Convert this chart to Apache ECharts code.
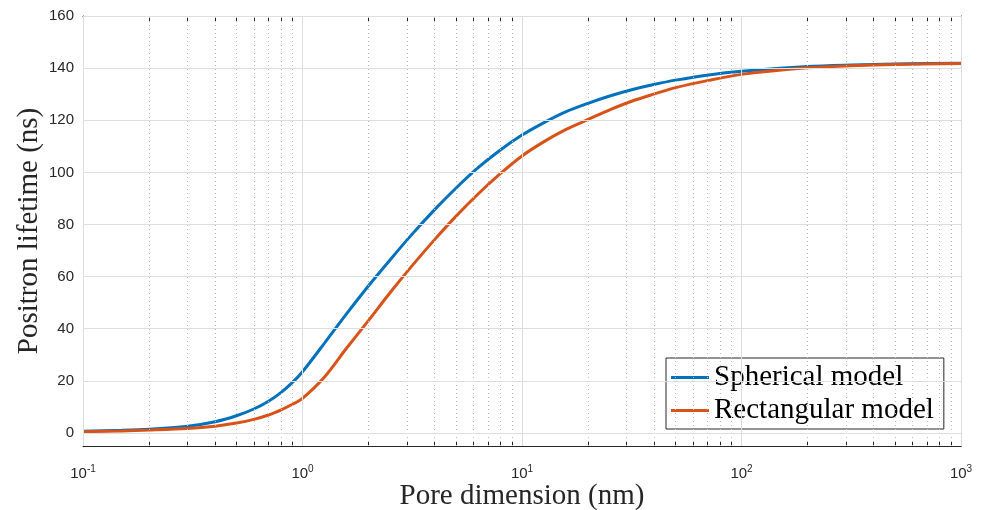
<!DOCTYPE html>
<html><head><meta charset="utf-8">
<script src="https://cdn.jsdelivr.net/npm/echarts@6/dist/echarts.min.js"></script>
<style>html,body{margin:0;padding:0;background:#fff}#c{width:982px;height:510px}</style>
</head><body><div id="c"></div>
<script>
// ---- data ----
const poreD  = [0.1, 0.15, 0.2, 0.3, 0.4, 0.5, 0.6, 0.7, 0.8, 0.9, 1.0, 1.26, 1.58, 2.0, 2.51, 3.16, 3.98, 5.01, 6.31, 7.94, 10, 12.6, 15.8, 20, 25.1, 31.6, 39.8, 50.1, 70.8, 100, 200, 316, 500, 1000];
const sphTau = [0.7, 1.0, 1.4, 2.6, 4.3, 6.6, 9.2, 12.2, 15.6, 19.4, 23.5, 34.5, 45.5, 56.5, 66.5, 76.3, 85.5, 94.0, 101.8, 108.5, 114.3, 119.1, 123.2, 126.5, 129.3, 131.7, 133.7, 135.4, 137.4, 138.8, 140.6, 141.2, 141.6, 141.9];
const recTau = [0.5, 0.8, 1.1, 1.7, 2.6, 3.8, 5.2, 6.9, 8.9, 11.0, 13.3, 21.5, 32.3, 43.2, 53.9, 64.2, 74.0, 83.2, 91.7, 99.4, 106.3, 111.8, 116.4, 120.3, 124.0, 127.3, 130.0, 132.5, 135.3, 137.6, 140.1, 140.9, 141.4, 141.8];
const seriesNames = ['Spherical model', 'Rectangular model'];
const xMajor = [0.1, 1, 10, 100, 1000];
const xMinor = [0.2,0.3,0.4,0.5,0.6,0.7,0.8,0.9, 2,3,4,5,6,7,8,9, 20,30,40,50,60,70,80,90, 200,300,400,500,600,700,800,900];
const yTicks = [0, 20, 40, 60, 80, 100, 120, 140, 160];
const xTitle = 'Pore dimension (nm)';
const yTitle = 'Positron lifetime (ns)';

const AX = '#262626';
const chart = echarts.init(document.getElementById('c'));
const allX = xMajor.concat(xMinor).sort((a,b)=>a-b);
const labelFmt = v => { const e = Math.round(Math.log10(v)); return '{b|10}{s|' + e + '}'; };

chart.setOption({
  animation: false,
  backgroundColor: '#fff',
  grid: { left: 83, right: 21, top: 16, bottom: 64, containLabel: false, outerBoundsMode: 'none' },
  legend: {
    data: seriesNames,
    orient: 'vertical',
    left: 666, top: 358,
    backgroundColor: '#fff',
    borderColor: AX, borderWidth: 1,
    padding: [5, 10, 4, 5],
    itemGap: 4,
    icon: 'rect', itemWidth: 38, itemHeight: 3,
    itemStyle: { borderWidth: 0 },
    textStyle: { fontFamily: 'Liberation Serif', fontSize: 29, lineHeight: 29, color: '#000' }
  },
  xAxis: [{
    type: 'log', logBase: 10, min: 0.1, max: 1000,
    name: xTitle, nameLocation: 'middle', nameGap: 36, nameMoveOverlap: false,
    nameTextStyle: { fontFamily: 'Liberation Serif', fontSize: 29, color: AX },
    axisLine: { show: true, onZero: false, lineStyle: { color: AX, width: 1 } },
    axisTick: { show: true, inside: true, length: 5, customValues: allX, lineStyle: { color: AX } },
    axisLabel: { show: true, margin: 18, showMinLabel: true, showMaxLabel: true, formatter: labelFmt,
      rich: { b: { fontFamily: 'Liberation Sans', fontSize: 15, color: AX },
              s: { fontFamily: 'Liberation Sans', fontSize: 10, color: AX, verticalAlign: 'bottom', padding: [0,0,9,0] } } },
    splitLine: { show: false }, minorTick: { show: false }
  }, {
    type: 'log', logBase: 10, min: 0.1, max: 1000, position: 'top',
    axisLine: { show: true, onZero: false, lineStyle: { color: AX, width: 1 } },
    axisTick: { show: true, inside: true, length: 5, customValues: allX, lineStyle: { color: AX } },
    axisLabel: { show: false }, splitLine: { show: false }
  }],
  yAxis: [{
    type: 'value', min: -5, max: 160,
    name: yTitle, nameLocation: 'middle', nameGap: 39, nameRotate: 90, nameMoveOverlap: false,
    nameTextStyle: { fontFamily: 'Liberation Serif', fontSize: 29, color: AX },
    axisLine: { show: true, onZero: false, lineStyle: { color: AX, width: 1 } },
    axisTick: { show: true, inside: true, length: 5, customValues: yTicks, lineStyle: { color: AX } },
    axisLabel: { show: true, customValues: yTicks, margin: 9, fontFamily: 'Liberation Sans', fontSize: 15, color: AX },
    splitLine: { show: false }
  }, {
    type: 'value', min: -5, max: 160, position: 'right',
    axisLine: { show: true, onZero: false, lineStyle: { color: AX, width: 1 } },
    axisTick: { show: true, inside: true, length: 5, customValues: yTicks, lineStyle: { color: AX } },
    axisLabel: { show: false }, splitLine: { show: false }
  }],
  series: [
    {
      name: 'grid', type: 'line', data: [], z: 1, silent: true,
      markLine: {
        silent: true, symbol: ['none', 'none'], animation: false,
        label: { show: false },
        data: xMinor.map(v => ({ xAxis: v, lineStyle: { color: '#bdbdbd', type: [1, 3], width: 1 } }))
          .concat(xMajor.map(v => ({ xAxis: v, lineStyle: { color: '#dcdcdc', type: 'solid', width: 1 } })))
          .concat(yTicks.map(v => ({ yAxis: v, lineStyle: { color: '#dedede', type: 'solid', width: 1 } })))
      }
    },
    {
      name: seriesNames[0], type: 'line', z: 3, smooth: 0.3, symbol: 'none',
      color: '#0072BD', lineStyle: { width: 3, color: '#0072BD' },
      data: poreD.map((d, i) => [d, sphTau[i]])
    },
    {
      name: seriesNames[1], type: 'line', z: 3, smooth: 0.3, symbol: 'none',
      color: '#D95319', lineStyle: { width: 3, color: '#D95319' },
      data: poreD.map((d, i) => [d, recTau[i]])
    }
  ]
});
</script></body></html>
